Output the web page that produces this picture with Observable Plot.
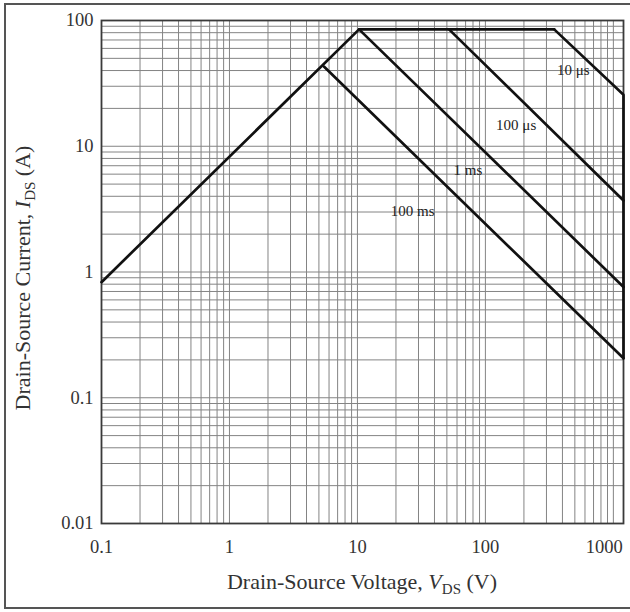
<!DOCTYPE html>
<html>
<head>
<meta charset="utf-8">
<script src="https://cdn.jsdelivr.net/npm/d3@7"></script>
<script src="https://cdn.jsdelivr.net/npm/@observablehq/plot@0.6"></script>
<style>
  html, body { margin: 0; padding: 0; background: #fff; }
  #wrap { position: relative; width: 630px; height: 612px; overflow: hidden; }
  #border { position: absolute; left: 4px; top: 3px; width: 640px; height: 606px; border: 2px solid #555; box-sizing: border-box; }
  #chart { position: absolute; left: 0; top: 0; }
</style>
</head>
<body>
<div id="wrap"><div id="border"></div><div id="chart"></div></div>
<script>
// Tick labels
const xTicks = [0.1, 1, 10, 100];
const xTickLast = [1000];
const yTicks = [0.01, 0.1, 1, 10, 100];
const xDecades = [0.1, 1, 10, 100];
const yDecades = [0.01, 0.1, 1, 10];
const minorSteps = [1, 2, 3, 4, 5, 6, 7, 8, 9];

// Safe operating area boundaries (V_DS, I_DS)
const rdsLimitV = [0.1, 10.3];
const rdsLimitI = [0.83, 85];
const currentLimitV = [10.3, 345];
const currentLimitI = [85, 85];
const us10V = [345, 1200, 1200];
const us10I = [85, 25.7, 0.206];
const us100V = [52, 1200];
const us100I = [85, 3.7];
const ms1V = [10.3, 1200];
const ms1I = [85, 0.76];
const ms100V = [5.47, 1200];
const ms100I = [43, 0.206];

// Curve labels
const labelText = ["10 μs", "100 μs", "1 ms", "100 ms"];
const labelV = [486, 174, 73, 27];
const labelI = [40, 14.6, 6.4, 3.06];

const toPts = (vs, is, name) => vs.map((v, i) => ({v, i: is[i], name}));
const curves = [
  toPts(rdsLimitV, rdsLimitI, "rds"),
  toPts(currentLimitV, currentLimitI, "lim"),
  toPts(us10V, us10I, "10us"),
  toPts(us100V, us100I, "100us"),
  toPts(ms1V, ms1I, "1ms"),
  toPts(ms100V, ms100I, "100ms")
];
const labels = labelText.map((t, k) => ({t, v: labelV[k], i: labelI[k]}));

const gridXVals = [...xDecades.flatMap(d => minorSteps.map(k => +(k * d).toPrecision(3))), 1000];
const gridYVals = [...yDecades.flatMap(d => minorSteps.map(k => +(k * d).toPrecision(3))), 100];

const serif = "'Liberation Serif', 'DejaVu Serif', serif";
const fmt = d => String(d);

const chart = Plot.plot({
  width: 630,
  height: 612,
  marginLeft: 101,
  marginRight: 7,
  marginTop: 20,
  marginBottom: 89,
  style: {fontFamily: serif, background: "transparent"},
  x: {type: "log", domain: [0.1, 1200], label: null},
  y: {type: "log", domain: [0.01, 100], label: null},
  marks: [
    Plot.gridX(gridXVals, {stroke: "#848484", strokeOpacity: 1, strokeWidth: 1}),
    Plot.gridY(gridYVals, {stroke: "#848484", strokeOpacity: 1, strokeWidth: 1}),
    Plot.frame({stroke: "#3a3a3a", strokeWidth: 1.8}),
    Plot.axisX(xTicks, {tickSize: 0, tickPadding: 16, fontSize: 18.5, fill: "#333", tickFormat: fmt, label: null}),
    Plot.axisX(xTickLast, {tickSize: 0, tickPadding: 16, fontSize: 18.5, fill: "#333", tickFormat: fmt, label: null, dx: -9}),
    Plot.axisY(yTicks, {tickSize: 0, tickPadding: 8, fontSize: 18.5, fill: "#333", tickFormat: fmt, label: null}),
    ...curves.map(c => Plot.line(c, {x: "v", y: "i", stroke: "#111", strokeWidth: 2.7, strokeLinejoin: "miter"})),
    Plot.text(labels, {x: "v", y: "i", text: "t", fontSize: 15, fill: "#222", fontFamily: serif})
  ]
});
document.getElementById("chart").appendChild(chart);

// Axis titles with italic variable and subscript
const svg = d3.select(chart);
const xt = svg.append("text")
  .attr("x", 362).attr("y", 589)
  .attr("text-anchor", "middle")
  .attr("font-family", serif).attr("font-size", 22).attr("fill", "#333");
xt.append("tspan").text("Drain-Source Voltage, ");
xt.append("tspan").attr("font-style", "italic").text("V");
xt.append("tspan").attr("font-size", 15).attr("dy", 5).text("DS");
xt.append("tspan").attr("dy", -5).text(" (V)");

const yt = svg.append("text")
  .attr("transform", "translate(30,278) rotate(-90)")
  .attr("text-anchor", "middle")
  .attr("font-family", serif).attr("font-size", 22).attr("fill", "#333");
yt.append("tspan").text("Drain-Source Current, ");
yt.append("tspan").attr("font-style", "italic").text("I");
yt.append("tspan").attr("font-size", 15).attr("dy", 5).text("DS");
yt.append("tspan").attr("dy", -5).text(" (A)");
</script>
</body>
</html>
